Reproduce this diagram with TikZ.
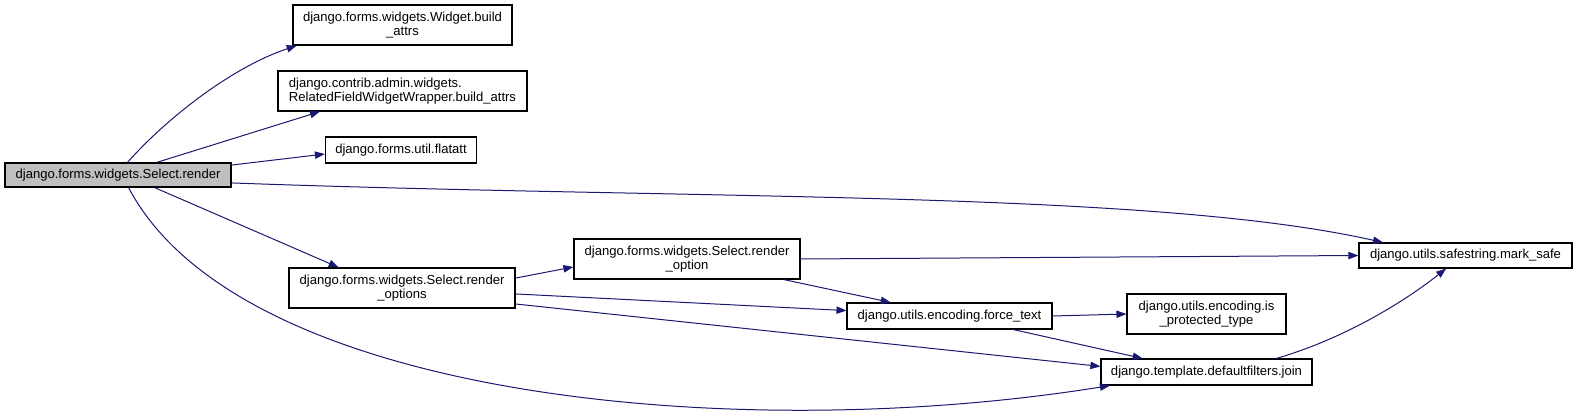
\documentclass[tikz,border=0pt]{standalone}
\usepackage{xcolor}
\usepackage{fontspec}
\setmainfont{Liberation Sans}
\usepackage{tikz}
\usetikzlibrary{positioning, arrows.meta}
\definecolor{callblue}{RGB}{25,25,112}
\definecolor{grey75}{RGB}{191,191,191}

\begin{document}
\begin{tikzpicture}[x=0.75pt, y=-0.75pt,
  fn/.style={draw, line width=0.85pt, inner sep=0pt, align=center, font=\fontsize{9.8}{10.4}\selectfont},
  call/.style={draw=callblue, line width=0.75pt, -{Triangle[length=7.5pt, width=5.5pt]}}]
\useasboundingbox (0,0) rectangle (1577,417);
\node[fn, fill=grey75, minimum width=169.5pt, minimum height=18pt] (render) at (118,175) {django.forms.widgets.Select.render};
\node[fn, minimum width=164.25pt, minimum height=30pt] (widget_attrs) at (402.5,25) {django.forms.widgets.Widget.build\\\_attrs};
\node[fn, align=left, minimum width=186.75pt, minimum height=30pt] (related_attrs) at (402.5,91) {django.contrib.admin.widgets.\\RelatedFieldWidgetWrapper.build\_attrs};
\node[fn, minimum width=113.25pt, minimum height=19.5pt] (flatatt) at (401,150) {django.forms.util.flatatt};
\node[fn, minimum width=169.5pt, minimum height=30pt] (render_options) at (402,288) {django.forms.widgets.Select.render\\\_options};
\node[fn, minimum width=169.5pt, minimum height=30pt] (render_option) at (687,259) {django.forms.widgets.Select.render\\\_option};
\node[fn, minimum width=153.75pt, minimum height=19.5pt] (force_text) at (949.5,316) {django.utils.encoding.force\_text};
\node[fn, minimum width=159.75pt, minimum height=18.75pt] (mark_safe) at (1465.5,255.5) {django.utils.safestring.mark\_safe};
\node[fn, minimum width=119.25pt, minimum height=30pt] (protected) at (1206.5,314) {django.utils.encoding.is\\\_protected\_type};
\node[fn, minimum width=158.25pt, minimum height=19.5pt] (join) at (1206.5,372) {django.template.defaultfilters.join};
% calls from render
\draw[call] (render.53) .. controls (165,120) and (230,68) .. (widget_attrs.191);
\draw[call] (render.18) -- (related_attrs.194);
\draw[call] (render.5) -- (flatatt.183);
\draw[call] (render.-4) .. controls (700,200) and (1150,190) .. (mark_safe.171);
\draw[call] (render.-19) -- (render_options.162);
\draw[call] (render.-50) .. controls (240,400) and (740,445) .. (join.188.7);
% calls from render_options
\draw[call] (render_options.5.6) -- (render_option.184.6);
\draw[call] (render_options.-3) -- (force_text.177);
\draw[call] (render_options.-8) -- (join.177);
% calls from render_option
\draw[call] (render_option.east) -- (mark_safe.west);
\draw[call] (render_option.-12) -- (force_text.167);
% calls from force_text and join
\draw[call] (force_text.east) -- (protected.west);
\draw[call] (force_text.-12) -- (join.168);
\draw[call] (join.11) .. controls (1340,340) and (1400,305) .. (mark_safe.214);
\end{tikzpicture}
\end{document}
